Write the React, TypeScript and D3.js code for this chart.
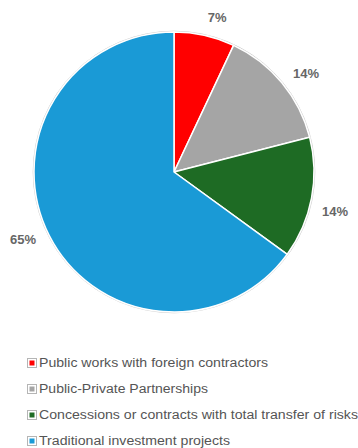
import React from "react";
import * as d3 from "d3";

const categories = [
  "Public works with foreign contractors",
  "Public-Private Partnerships",
  "Concessions or contracts with total transfer of risks",
  "Traditional investment projects",
];
const values = [7, 14, 14, 65];
const labels = ["7%", "14%", "14%", "65%"];
const colors = ["#FF0000", "#A5A5A5", "#1E6B24", "#1A9AD6"];
const legendWidths = [229, 169, 319, 191];

export default function App() {
  const W = 358;
  const H = 448;
  const cx = 174;
  const cy = 172;
  const R = 140;

  const pie = d3
    .pie<number>()
    .sort(null)
    .value((d) => d)
    .startAngle(0)
    .endAngle(2 * Math.PI);
  const arcs = pie(values);
  const arcGen = d3.arc<d3.PieArcDatum<number>>().innerRadius(0).outerRadius(R);

  const legendY = d3.scalePoint<number>().domain([0, 1, 2, 3]).range([363, 441]);

  const labelPos = (a: d3.PieArcDatum<number>) => {
    const ang = (a.startAngle + a.endAngle) / 2 + (3 * Math.PI) / 180;
    const r = R + 18 + 8 * Math.abs(Math.sin(ang));
    return [r * Math.sin(ang), -r * Math.cos(ang)];
  };

  return (
    <svg
      width={W}
      height={H}
      style={{ position: "absolute", left: 0, top: 0, background: "#fff" }}
      fontFamily="'Liberation Sans', Arial, sans-serif"
    >
      <rect x={0} y={0} width={W} height={H} fill="#fff" />
      <g transform={`translate(${cx},${cy})`}>
        <circle r={R + 0.8} fill="none" stroke="#d0d0d0" strokeWidth={1} />
        {arcs.map((a, i) => (
          <path key={i} d={arcGen(a) || ""} fill={colors[i]} stroke="#fff" strokeWidth={1.5} strokeLinejoin="round" />
        ))}
        {arcs.map((a, i) => {
          const [x, y] = labelPos(a);
          return (
            <text
              key={i}
              x={x}
              y={y}
              textAnchor="middle"
              dominantBaseline="central"
              fontSize={13}
              fontWeight="bold"
              fill="#666666"
            >
              {labels[i]}
            </text>
          );
        })}
      </g>
      {categories.map((c, i) => {
        const y = legendY(i) as number;
        return (
          <g key={i}>
            <rect x={27.5} y={y - 4.5} width={9} height={9} fill="#fff" stroke="#b5b5b5" strokeWidth={1} />
            <rect x={29.5} y={y - 2.5} width={5} height={5} fill={colors[i]} />
            <text
              x={39}
              y={y}
              dominantBaseline="central"
              fontSize={12.5}
              fill="#555555"
              textLength={legendWidths[i]}
              lengthAdjust="spacingAndGlyphs"
            >
              {c}
            </text>
          </g>
        );
      })}
    </svg>
  );
}
